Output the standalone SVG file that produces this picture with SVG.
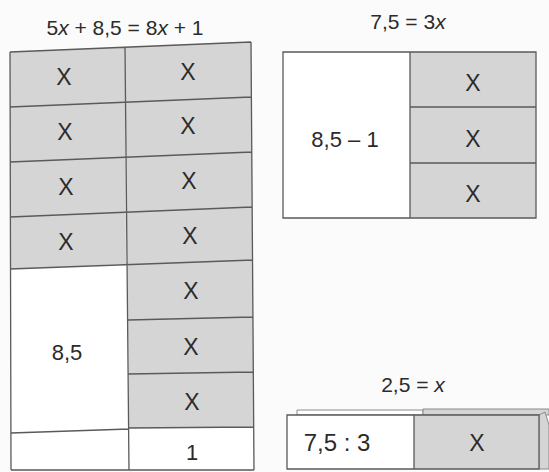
<svg xmlns="http://www.w3.org/2000/svg" width="549" height="472" viewBox="0 0 549 472">
<style>
.bg{fill:#fbfbfb}
.g{fill:#d5d5d5}
.w{fill:#ffffff}
.ln{stroke:#5a5a5a;stroke-width:1.3;fill:none}
.t{font-family:"Liberation Sans",Arial,sans-serif;fill:#2b2b2b;text-anchor:middle}
.x{font-size:23px}
.h{font-size:21px}
.v{font-size:22px}
</style>
<rect class="bg" x="0" y="0" width="549" height="472"/>
<text class="t h" x="125" y="35">5<tspan font-style="italic">x</tspan> + 8,5 = 8<tspan font-style="italic">x</tspan> + 1</text>
<text class="t h" x="408" y="29">7,5 = 3<tspan font-style="italic">x</tspan></text>
<text class="t h" x="413" y="392">2,5 = <tspan font-style="italic">x</tspan></text>

<g id="table-left">
  <polygon class="w" points="10,52 251,42 254,470 11,470"/>
  <polygon class="g" points="10,52 125,47 126,264 10,269"/>
  <polygon class="g" points="125,47 251,42 254,427 129,428"/>
  <path class="ln" d="M10,52 L251,42 M10,107 L251,97 M10,162 L252,152 M10,217 L252,207 M10,269 L253,260 M128,320 L253,317 M128,374 L253,372 M129,428 L254,427 M11,433 L129,429 M11,470 L254,470 M10,52 L11,470 M125,47 L129,470 M251,42 L254,470"/>
  <g id="cell-l1"><text class="t x" x="64" y="85">X</text></g>
  <g id="cell-l2"><text class="t x" x="65" y="140">X</text></g>
  <g id="cell-l3"><text class="t x" x="66" y="195">X</text></g>
  <g id="cell-l4"><text class="t x" x="66" y="250">X</text></g>
  <g id="cell-l5"><text class="t v" x="67" y="360">8,5</text></g>
  <g id="cell-r1"><text class="t x" x="188" y="80">X</text></g>
  <g id="cell-r2"><text class="t x" x="188" y="134">X</text></g>
  <g id="cell-r3"><text class="t x" x="189" y="189">X</text></g>
  <g id="cell-r4"><text class="t x" x="190" y="244">X</text></g>
  <g id="cell-r5"><text class="t x" x="191" y="299">X</text></g>
  <g id="cell-r6"><text class="t x" x="191" y="355">X</text></g>
  <g id="cell-r7"><text class="t x" x="192" y="410">X</text></g>
  <g id="cell-r8"><text class="t v" x="192" y="460">1</text></g>
</g>

<g id="table-right-top">
  <rect class="w" x="283" y="52" width="127" height="166"/>
  <rect class="g" x="410" y="52" width="126" height="166"/>
  <path class="ln" d="M283,52 H536 V218 H283 Z M410,52 V218 M410,107 H536 M410,163 H536"/>
  <g id="cell-t1"><text class="t v" x="345" y="147">8,5 – 1</text></g>
  <g id="cell-t2"><text class="t x" x="473" y="91">X</text></g>
  <g id="cell-t3"><text class="t x" x="473" y="147">X</text></g>
  <g id="cell-t4"><text class="t x" x="473" y="202">X</text></g>
</g>

<g id="table-right-bottom">
  <polygon class="w" points="297,410 423,410 423,415 297,415" stroke="#8a8a8a" stroke-width="1"/>
  <polygon class="g" points="423,409 549,409 549,415 423,415" stroke="#8a8a8a" stroke-width="1"/>
  <polygon class="g" points="539,415 545,412 549,425 549,469 539,469" stroke="#8a8a8a" stroke-width="1"/>
  <rect class="w" x="287" y="415" width="127" height="54"/>
  <rect class="g" x="414" y="415" width="125" height="54"/>
  <path class="ln" d="M287,415 H539 V469 H287 Z M414,415 V469"/>
  <g id="cell-b1"><text class="t" font-size="24" x="337" y="451">7,5 : 3</text></g>
  <g id="cell-b2"><text class="t x" x="477" y="451">X</text></g>
</g>
<g id="connectors"/>
</svg>
